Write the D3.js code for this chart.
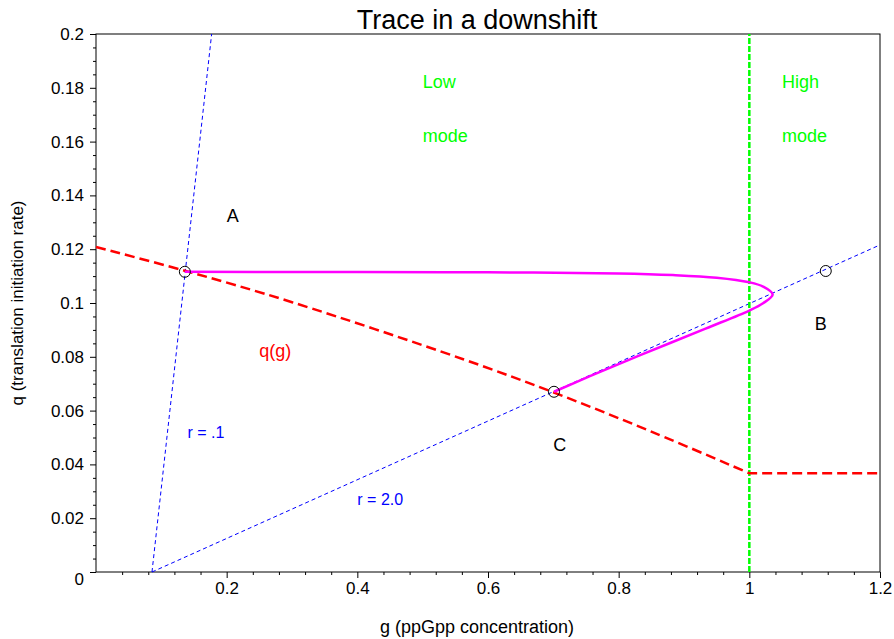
<!DOCTYPE html>
<html>
<head>
<meta charset="utf-8">
<script src="https://cdn.jsdelivr.net/npm/d3@7"></script>
<style>
  body { margin: 0; background: #fff; }
  svg { font-family: "Liberation Sans", Arial, sans-serif; }
</style>
</head>
<body>
<svg id="chart"></svg>
<script>
var width = 894,
    height = 639;

// q(g) curve (bends down to g = 1, flat after)
var qgG = [0, 0.136, 0.3, 0.562, 0.702, 0.85, 1];
var qgQ = [0.1208, 0.112, 0.1003, 0.0791, 0.0666, 0.0522, 0.0367];
var qgFlatG = [1, 1.2];
var qgFlatQ = [0.0367, 0.0367];

// r lines (both start on the g axis)
var rLowG = [0.0857, 0.177];
var rLowQ = [0, 0.2];
var rHighG = [0.0857, 1.2];
var rHighQ = [0, 0.1216];

// the trace: A -> loop -> C
var traceG = [0.136, 0.4, 0.6, 0.8, 0.883, 0.95, 1.0, 1.021, 1.0357, 1.021, 1.0, 0.933, 0.833, 0.756, 0.701];
var traceQ = [0.1116, 0.1115, 0.1114, 0.111, 0.1104, 0.1094, 0.1077, 0.1061, 0.1032, 0.0999, 0.0972, 0.0905, 0.0806, 0.0728, 0.067];

// marked points A, B, C
var ptG = [0.136, 1.117, 0.701];
var ptQ = [0.1116, 0.1119, 0.067];

// text labels
var labelText = ["A", "B", "C", "q(g)", "r = .1", "r = 2.0", "Low", "mode", "High", "mode"];
var labelG = [0.2, 1.1, 0.7, 0.25, 0.14, 0.4, 0.5, 0.5, 1.05, 1.05];
var labelQ = [0.13, 0.09, 0.045, 0.08, 0.05, 0.025, 0.18, 0.16, 0.18, 0.16];
var labelColor = ["black", "black", "black", "red", "blue", "blue", "#00ff00", "#00ff00", "#00ff00", "#00ff00"];
var labelSize = [18, 18, 18, 18, 16, 16, 18, 18, 18, 18];

var xTicks = [0.2, 0.4, 0.6, 0.8, 1, 1.2];
var yTicks = [0, 0.02, 0.04, 0.06, 0.08, 0.1, 0.12, 0.14, 0.16, 0.18, 0.2];

var margin = {left: 96, right: 14, top: 34, bottom: 67};

var svg = d3.select("#chart")
    .attr("width", width)
    .attr("height", height);

var x = d3.scaleLinear().domain([0, 1.2]).range([margin.left, width - margin.right]);
var y = d3.scaleLinear().domain([0, 0.2]).range([height - margin.bottom, margin.top]);

function zip(gs, qs) {
    return gs.map((g, i) => [g, qs[i]]);
}

var line = d3.line()
    .x(d => x(d[0]))
    .y(d => y(d[1]));

// frame
svg.append("rect")
    .attr("x", x(0)).attr("y", y(0.2))
    .attr("width", x(1.2) - x(0)).attr("height", y(0) - y(0.2))
    .attr("fill", "none").attr("stroke", "black").attr("stroke-width", 1);

// axes
var xAxis = svg.append("g")
    .attr("transform", "translate(0," + y(0) + ")")
    .call(d3.axisBottom(x).tickValues(xTicks).tickSize(6).tickPadding(4).tickFormat(d3.format("")));
xAxis.select(".domain").remove();
svg.append("g")
    .attr("transform", "translate(0," + y(0) + ")")
    .call(d3.axisBottom(x).tickValues(d3.range(0.04, 1.2, 0.04).filter(v => Math.abs(v / 0.2 - Math.round(v / 0.2)) > 0.01)).tickSize(3).tickFormat(""))
    .select(".domain").remove();

var yAxis = svg.append("g")
    .attr("transform", "translate(" + x(0) + ",0)")
    .call(d3.axisLeft(y).tickValues(yTicks).tickSize(6).tickPadding(6).tickFormat(d3.format("")));
yAxis.select(".domain").remove();
yAxis.selectAll(".tick").filter(d => d === 0).select("text").attr("dy", "0.75em");
svg.append("g")
    .attr("transform", "translate(" + x(0) + ",0)")
    .call(d3.axisLeft(y).tickValues(d3.range(0.005, 0.2, 0.005).filter(v => Math.abs(v / 0.02 - Math.round(v / 0.02)) > 0.01)).tickSize(3).tickFormat(""))
    .select(".domain").remove();

svg.selectAll(".tick text")
    .attr("font-size", 17)
    .attr("font-family", "Liberation Sans, Arial, sans-serif")
    .attr("fill", "black");

// r lines
svg.append("path")
    .attr("d", line(zip(rLowG, rLowQ)))
    .attr("fill", "none").attr("stroke", "blue").attr("stroke-width", 1)
    .attr("stroke-dasharray", "4,3");
svg.append("path")
    .attr("d", line(zip(rHighG, rHighQ)))
    .attr("fill", "none").attr("stroke", "blue").attr("stroke-width", 1)
    .attr("stroke-dasharray", "4,3");

// mode boundary
svg.append("path")
    .attr("d", line([[1, 0], [1, 0.2]]))
    .attr("fill", "none").attr("stroke", "#00ff00").attr("stroke-width", 2.5)
    .attr("stroke-dasharray", "6,2");

// q(g)
var qgLine = d3.line()
    .x(d => x(d[0]))
    .y(d => y(d[1]))
    .curve(d3.curveCatmullRom.alpha(0.5));
svg.append("path")
    .attr("d", qgLine(zip(qgG, qgQ)) + line(zip(qgFlatG, qgFlatQ)).replace("M", "L"))
    .attr("fill", "none").attr("stroke", "red").attr("stroke-width", 2.5)
    .attr("stroke-dasharray", "10,5");

// trace
svg.append("path")
    .attr("d", qgLine(zip(traceG, traceQ)))
    .attr("fill", "none").attr("stroke", "#ff00ff").attr("stroke-width", 2.5);

// points
svg.selectAll("circle.pt")
    .data(zip(ptG, ptQ))
    .enter().append("circle")
        .classed("pt", true)
        .attr("cx", d => x(d[0]))
        .attr("cy", d => y(d[1]))
        .attr("r", 5.5)
        .attr("fill", "none")
        .attr("stroke", "black")
        .attr("stroke-width", 1);

// labels
svg.selectAll("text.lbl")
    .data(labelText)
    .enter().append("text")
        .classed("lbl", true)
        .attr("x", (d, i) => x(labelG[i]))
        .attr("y", (d, i) => y(labelQ[i]))
        .attr("fill", (d, i) => labelColor[i])
        .attr("font-size", (d, i) => labelSize[i])
        .text(d => d);

// title and axis titles
svg.append("text")
    .attr("x", 477).attr("y", 29)
    .attr("text-anchor", "middle")
    .attr("font-size", 27)
    .text("Trace in a downshift");

svg.append("text")
    .attr("x", 477).attr("y", 633)
    .attr("text-anchor", "middle")
    .attr("font-size", 18)
    .text("g (ppGpp concentration)");

svg.append("text")
    .attr("transform", "translate(23," + y(0.1) + ") rotate(-90)")
    .attr("text-anchor", "middle")
    .attr("font-size", 17)
    .text("q (translation initiation rate)");
</script>
</body>
</html>
